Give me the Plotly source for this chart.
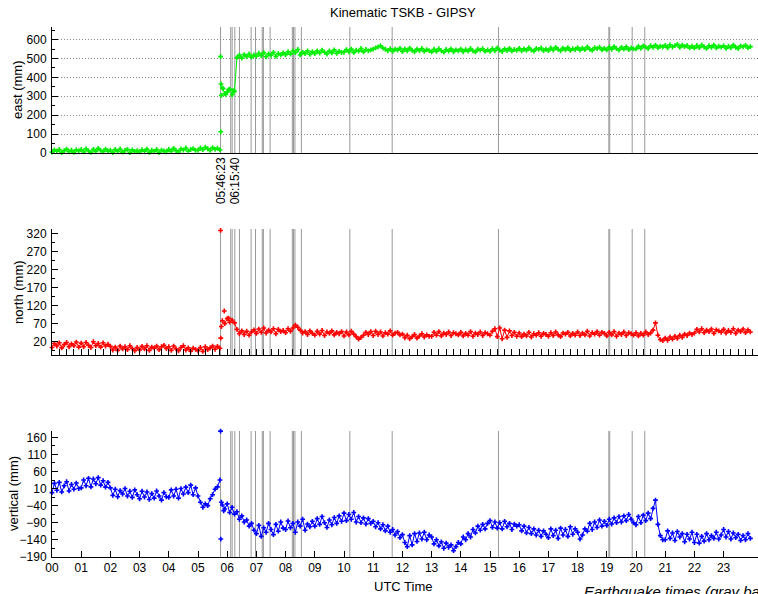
import plotly.graph_objects as go

# ---------------- data ----------------
hour_labels = ["%02d" % h for h in range(24)]
eq_times = [5.773, 6.12, 6.17, 6.261, 6.42, 6.82, 6.97, 7.20, 7.24, 7.47,
            8.23, 8.27, 8.32, 8.54, 10.20, 11.65, 15.29, 19.07, 19.10, 19.87, 20.30]
eq_labels = ["05:46:23", "06:15:40"]
eq_label_times = [5.773, 6.261]

east = [
    4, 16, 9, 18, 2, 12, 20, 6, 14, 3, 17, 10,
    18, 5, 22, 11, 3, 19, 8, 24, 13, 6, 20, 9,
    15, 2, 18, 8, 21, 4, 13, 19, 1, 16, 7, 12,
    5, 17, 9, 20, 3, 14, 8, 18, 2, 15, 11, 6,
    19, 8, 24, 12, 5, 21, 15, 26, 9, 18, 23, 13,
    14, 26, 17, 30, 22, 13, 28, 19, 25, 16, 345, 315,
    322, 338, 308, 326, 505, 518, 502, 521, 510, 524, 507, 519,
    512, 528, 515, 531, 509, 525, 517, 533, 511, 527, 519, 530,
    520, 536, 523, 540, 531, 548, 519, 534, 526, 541, 522, 537,
    526, 541, 529, 545, 533, 524, 540, 530, 546, 527, 538, 532,
    533, 547, 536, 550, 531, 544, 539, 553, 535, 548, 541, 546,
    550, 556, 562, 568, 555, 549, 541, 552, 538, 550, 544, 554,
    537, 551, 540, 555, 543, 536, 550, 541, 553, 538, 547, 542,
    535, 549, 538, 552, 541, 534, 548, 539, 551, 536, 546, 540,
    550, 536, 547, 539, 553, 541, 535, 549, 544, 552, 538, 546,
    538, 552, 541, 556, 544, 537, 551, 542, 554, 539, 548, 543,
    554, 540, 551, 543, 557, 545, 539, 553, 548, 556, 542, 550,
    542, 556, 545, 559, 548, 541, 555, 546, 558, 543, 552, 547,
    558, 544, 555, 547, 561, 549, 543, 557, 552, 560, 546, 554,
    546, 560, 549, 563, 552, 545, 559, 550, 562, 547, 556, 551,
    551, 565, 554, 567, 560, 553, 568, 559, 571, 556, 566, 561,
    570, 557, 573, 561, 568, 575, 559, 571, 563, 569, 556, 566,
    555, 569, 558, 572, 561, 554, 568, 559, 571, 556, 565, 560,
    568, 554, 565, 557, 571, 559, 553, 567, 562, 570, 556, 563,
]

north = [
    4, 15, 8, 17, 3, 12, 18, 6, 14, 9, 19, 5,
    16, 6, 18, 10, 4, 20, 9, 15, 5, 17, 8, 13,
    7, -3, 5, -4, 8, 0, 6, -2, 9, 1, -5, 4,
    -3, 7, 0, 9, -4, 5, 2, 8, -2, 6, 10, 1,
    6, -4, 8, 0, -5, 4, 9, -3, 3, -6, 2, -1,
    -5, 4, -7, 6, -2, 3, 8, -1, 7, 2, 78, 70,
    84, 74, 80, 72, 54, 42, 50, 40, 49, 38, 47, 53,
    43, 55, 46, 58, 44, 52, 47, 56, 42, 54, 48, 51,
    45, 56, 49, 58, 66, 60, 52, 44, 48, 40, 50, 43,
    38, 49, 41, 51, 37, 47, 43, 50, 39, 46, 42, 48,
    36, 47, 39, 49, 41, 34, 27, 32, 38, 46, 40, 48,
    37, 49, 40, 47, 36, 45, 41, 50, 38, 44, 46, 39,
    41, 31, 38, 28, 34, 40, 30, 36, 42, 33, 39, 35,
    35, 46, 38, 48, 36, 44, 40, 47, 37, 45, 42, 39,
    46, 36, 43, 38, 48, 35, 44, 40, 47, 37, 45, 42,
    38, 49, 56, 34, 58, 28, 52, 32, 50, 37, 46, 35,
    44, 34, 41, 36, 46, 33, 42, 38, 45, 35, 43, 40,
    35, 45, 37, 47, 39, 34, 44, 41, 46, 36, 43, 38,
    47, 37, 44, 39, 49, 36, 45, 41, 48, 38, 46, 43,
    36, 46, 39, 48, 35, 44, 40, 47, 37, 45, 42, 38,
    45, 36, 43, 38, 47, 40, 44, 52, 72, 38, 26, 23,
    30, 24, 33, 27, 35, 29, 38, 32, 41, 37, 44, 40,
    44, 54, 47, 56, 45, 52, 48, 55, 43, 53, 50, 46,
    54, 44, 51, 46, 56, 43, 52, 48, 55, 45, 53, 47,
]

vertical = [
    -2, 25, 5, 28, 0, 18, 30, 3, 22, 8, 26, 10,
    12, 35, 18, 40, 15, 38, 24, 42, 20, 33, 14, 28,
    12, -10, 8, -14, 4, -6, 10, -12, 2, -16, 6, -8,
    -20, 2, -15, 0, -22, -5, -18, 3, -12, -24, -2, -14,
    -16, 6, -12, 8, -18, 10, -6, 14, -2, 20, -8, 12,
    -12, -30, -45, -35, -40, -20, -8, 8, 15, 35, -38, -50,
    -35, -60, -45, -65, -58, -80, -70, -88, -82, -100, -92, -112,
    -122, -98, -130, -105, -118, -92, -110, -125, -95, -115, -88, -106,
    -110, -85, -105, -92, -118, -88, -100, -80, -112, -94, -102, -86,
    -100, -78, -95, -72, -90, -104, -82, -96, -75, -92, -70, -86,
    -62, -84, -66, -80, -60, -88, -72, -90, -76, -94, -78, -92,
    -86, -102, -90, -108, -96, -114, -100, -118, -110, -126, -116, -134,
    -125, -148, -160, -128, -155, -122, -145, -120, -138, -118, -140, -126,
    -132, -152, -140, -158, -146, -165, -150, -162, -155, -172, -160, -148,
    -152, -132, -140, -122, -132, -110, -120, -100, -112, -95, -108, -92,
    -84, -104, -88, -106, -90, -108, -86, -102, -92, -110, -94, -100,
    -96, -114, -100, -120, -104, -122, -108, -126, -112, -130, -114, -124,
    -134, -108, -128, -112, -136, -106, -126, -110, -130, -102, -124, -108,
    -118, -138, -126, -108, -115, -92, -110, -88, -104, -82, -100, -86,
    -98, -80, -94, -76, -90, -72, -88, -70, -84, -66, -80, -90,
    -96, -72, -90, -68, -84, -62, -78, -48, -24, -95, -128, -140,
    -140, -114, -136, -120, -142, -116, -132, -122, -146, -124, -138, -118,
    -148, -124, -150, -130, -144, -122, -140, -128, -136, -118, -138, -126,
    -110, -132, -116, -138, -120, -134, -124, -142, -128, -140, -122, -136,
]

# transient samples recorded during the main shock
east_evt_t = [5.773, 5.78, 5.79, 5.80, 5.86, 5.95, 6.05, 6.20]
east_evt_v = [510, 112, 365, 305, 340, 310, 335, 330]
north_evt_t = [5.773, 5.78, 5.80, 5.90, 6.05]
north_evt_v = [328, 30, 62, 105, 85]
vert_evt_t = [5.773, 5.78, 5.80, 5.88]
vert_evt_v = [178, -138, -30, -55]

times = [i / 12.0 for i in range(len(east))]
SPLIT = 70  # first sample after the main shock

# ---------------- figure ----------------
W, H = 758, 594
FONT = "Liberation Sans, Arial, sans-serif"


def py(p):  # pixel-from-top -> paper fraction
    return 1 - p / H


def px(p):
    return p / W


fig = go.Figure()

panels = [
    ("x", "y", east, east_evt_t, east_evt_v, "#00ee00"),
    ("x2", "y2", north, north_evt_t, north_evt_v, "#ff0000"),
    ("x3", "y3", vertical, vert_evt_t, vert_evt_v, "#0000ff"),
]
for xa, ya, vals, et, ev, col in panels:
    for sl in (slice(0, SPLIT), slice(SPLIT, None)):
        fig.add_trace(go.Scatter(x=times[sl], y=vals[sl], xaxis=xa, yaxis=ya, mode="lines+markers",
                                 line=dict(color=col, width=1),
                                 marker=dict(symbol="cross", size=4, color=col, line=dict(width=0)),
                                 cliponaxis=False, showlegend=False, hoverinfo="skip"))
    fig.add_trace(go.Scatter(x=et, y=ev, xaxis=xa, yaxis=ya, mode="markers",
                             marker=dict(symbol="cross", size=4, color=col, line=dict(width=0)),
                             cliponaxis=False, showlegend=False, hoverinfo="skip"))

shapes = []
for xa, ya in [("x", "y"), ("x2", "y2"), ("x3", "y3")]:
    for t in eq_times:
        shapes.append(dict(type="line", xref=xa, yref=ya + " domain", x0=t, x1=t, y0=0, y1=1,
                           line=dict(color="#999999", width=1), layer="below"))

X0 = 52          # pixel x of hour 0
HOUR_PX = 29.2   # pixels per hour
xdom = [px(X0), 1.0]
xrange_ = [0, (W - X0) / HOUR_PX]
tickfont = dict(family=FONT, size=12, color="black")

common_x = dict(domain=xdom, range=xrange_, showline=True, linecolor="black", linewidth=1,
                showgrid=False, zeroline=False, tickfont=tickfont, automargin=False)
common_y = dict(showline=True, linecolor="black", linewidth=1, zeroline=False,
                ticks="inside", ticklen=6, tickcolor="black", tickfont=tickfont,
                ticklabelstandoff=2, automargin=False)

fig.update_layout(
    width=W, height=H,
    margin=dict(l=0, r=0, t=0, b=0, autoexpand=False),
    paper_bgcolor="white", plot_bgcolor="white",
    font=dict(family=FONT, color="black"),
    showlegend=False,
    shapes=shapes,
    xaxis=dict(**common_x, anchor="y", showticklabels=False, ticks=""),
    xaxis2=dict(**common_x, anchor="y2", showticklabels=False, ticks="inside",
                tick0=0, dtick=0.25, ticklen=6, tickcolor="black"),
    xaxis3=dict(**common_x, anchor="y3", ticks="inside", tickmode="array",
                tickvals=list(range(24)), ticktext=hour_labels, ticklen=6, tickcolor="black"),
    yaxis=dict(**common_y, domain=[py(153), py(27)], range=[-0.5, 667], tick0=0, dtick=100,
               showgrid=True, gridcolor="#888888", griddash="1px,2px", gridwidth=1,
               minor=dict(ticks="inside", ticklen=3, dtick=50, tick0=0, tickcolor="black")),
    yaxis2=dict(**common_y, domain=[py(355), py(229)], range=[-16.8, 332], tick0=20, dtick=50,
                showgrid=False,
                minor=dict(ticks="inside", ticklen=3, dtick=25, tick0=20, tickcolor="black")),
    yaxis3=dict(**common_y, domain=[py(557), py(431)], range=[-190.5, 178.5], tick0=-190, dtick=50,
                showgrid=False,
                minor=dict(ticks="inside", ticklen=3, dtick=25, tick0=-190, tickcolor="black")),
)

ann = []
ann.append(dict(text="Kinematic TSKB - GIPSY", xref="paper", yref="paper", x=px(403), y=py(12),
                xanchor="center", yanchor="middle", showarrow=False,
                font=dict(family=FONT, size=13, color="black")))
for txt, yc, xc in [("east (mm)", 90, 18), ("north (mm)", 292, 18), ("vertical (mm)", 494, 13)]:
    ann.append(dict(text=txt, xref="paper", yref="paper", x=px(xc), y=py(yc), textangle=-90,
                    xanchor="center", yanchor="middle", showarrow=False,
                    font=dict(family=FONT, size=13, color="black")))
for txt, t in zip(eq_labels, eq_label_times):
    ann.append(dict(text=txt, xref="x", yref="paper", x=t, y=py(155), textangle=-90,
                    xanchor="center", yanchor="top", showarrow=False,
                    font=dict(family=FONT, size=12, color="black")))
ann.append(dict(text="UTC Time", xref="paper", yref="paper", x=px(403), y=py(586),
                xanchor="center", yanchor="middle", showarrow=False,
                font=dict(family=FONT, size=13, color="black")))
ann.append(dict(text="<i>Earthquake times (gray bars)</i>", xref="paper", yref="paper",
                x=px(582), y=py(581), xanchor="left", yanchor="top", showarrow=False,
                font=dict(family=FONT, size=15, color="black")))
fig.update_layout(annotations=ann)

# remove the default page margin so the figure sits at the window's top-left corner
fig.write_html("out.html", config={"displayModeBar": False, "staticPlot": True},
               post_script="document.body.style.margin='0px';")
